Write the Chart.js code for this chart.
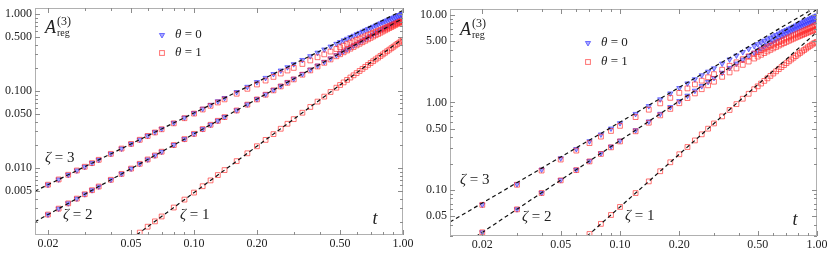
<!DOCTYPE html>
<html>
<head>
<meta charset="utf-8">
<script src="https://cdn.jsdelivr.net/npm/chart.js@4.4.1/dist/chart.umd.min.js"></script>
<style>
  body { margin: 0; background: #fff; }
  #wrap { position: relative; width: 831px; height: 254px; }
  canvas { position: absolute; top: 0; }
</style>
</head>
<body>
<div id="wrap">
  <canvas id="left" width="415" height="254" style="left:0"></canvas>
  <canvas id="right" width="416" height="254" style="left:415px"></canvas>
</div>
<script>
// ---- left panel data ----
const tLeft = [0.02, 0.0225, 0.025, 0.0275, 0.03, 0.0325, 0.035, 0.04, 0.045, 0.05, 0.055, 0.06, 0.065, 0.07,
  0.08, 0.09, 0.10, 0.11, 0.12, 0.13, 0.14, 0.16, 0.18, 0.20, 0.22, 0.24, 0.26, 0.28, 0.30,
  0.33, 0.36, 0.39, 0.42, 0.45, 0.48,
  0.50, 0.52, 0.54, 0.56, 0.58, 0.60, 0.62, 0.64, 0.66, 0.68, 0.70, 0.72, 0.74, 0.76, 0.78, 0.80,
  0.82, 0.84, 0.86, 0.88, 0.90, 0.92, 0.94, 0.96, 0.98, 1.00];
const leftBlue3 = [0.00608, 0.00711, 0.00818, 0.0093, 0.0104, 0.0116, 0.0128, 0.0153, 0.0179, 0.0206, 0.0234, 0.0263, 0.0293, 0.0323,
  0.0386, 0.0452, 0.0519, 0.059, 0.0662, 0.0737, 0.0813, 0.0971, 0.1136, 0.1307, 0.1484, 0.1664, 0.185, 0.204, 0.2235,
  0.2535, 0.284, 0.3155, 0.347, 0.379, 0.411,
  0.4333, 0.456, 0.4783, 0.501, 0.5233, 0.546, 0.5691, 0.592, 0.6152, 0.639, 0.6627, 0.686, 0.7097, 0.734, 0.7578, 0.782,
  0.8058, 0.83, 0.8538, 0.878, 0.9022, 0.926, 0.9494, 0.973, 0.9964, 1.02];
const leftRed3 = [0.00608, 0.00711, 0.00818, 0.0093, 0.0104, 0.0116, 0.0128, 0.0153, 0.0179, 0.0206, 0.0233, 0.0261, 0.029, 0.0319,
  0.0381, 0.0444, 0.051, 0.0576, 0.0643, 0.0711, 0.078, 0.0924, 0.107, 0.1218, 0.137, 0.1528, 0.169, 0.185, 0.2,
  0.225, 0.25, 0.275, 0.3, 0.326, 0.352,
  0.3704, 0.388, 0.4069, 0.425, 0.4428, 0.461, 0.4791, 0.497, 0.5154, 0.534, 0.552, 0.57, 0.5883, 0.607, 0.6247, 0.643,
  0.6614, 0.68, 0.6985, 0.717, 0.7353, 0.754, 0.772, 0.79, 0.8095, 0.83];
const leftBlue2 = [0.00249, 0.00297, 0.00348, 0.00401, 0.00457, 0.00516, 0.00576, 0.00704, 0.0084, 0.00984, 0.01135, 0.01293, 0.01458, 0.0163,
  0.01991, 0.02376, 0.02783, 0.0321, 0.03658, 0.04124, 0.0461, 0.0563, 0.0672, 0.0787, 0.0908, 0.1035, 0.1167, 0.1304, 0.1446,
  0.1668, 0.1901, 0.2144, 0.2395, 0.2657, 0.2926,
  0.3112, 0.33, 0.3495, 0.37, 0.3902, 0.411, 0.4324, 0.454, 0.4762, 0.498, 0.5206, 0.543, 0.5664, 0.59, 0.6145, 0.639,
  0.6639, 0.689, 0.7147, 0.74, 0.7658, 0.792, 0.8182, 0.845, 0.875, 0.906];
const leftRed2 = [0.00249, 0.00297, 0.00348, 0.00401, 0.00457, 0.00516, 0.00576, 0.00704, 0.0084, 0.00984, 0.01135, 0.01293, 0.01458, 0.0163,
  0.01991, 0.02376, 0.02783, 0.0321, 0.0365, 0.0411, 0.0459, 0.056, 0.0667, 0.0779, 0.0897, 0.1021, 0.1149, 0.1281, 0.1417,
  0.1631, 0.1855, 0.2088, 0.2328, 0.2577, 0.2832,
  0.3009, 0.3188, 0.3368, 0.3553, 0.3737, 0.3926, 0.4118, 0.431, 0.4509, 0.4706, 0.4909, 0.511, 0.5316, 0.552, 0.573, 0.594,
  0.6149, 0.636, 0.6577, 0.679, 0.7011, 0.723, 0.7452, 0.767, 0.7897, 0.812];
const leftRed1 = [null, null, null, null, null, null, null, null, null, 0.0012, 0.00145, 0.00173, 0.00203, 0.00235,
  0.00307, 0.00389, 0.0048, 0.00581, 0.00691, 0.00811, 0.00941, 0.0123, 0.01555, 0.0192, 0.0232, 0.0276, 0.0324, 0.0376, 0.0432,
  0.0523, 0.0622, 0.073, 0.0847, 0.0972, 0.1106,
  0.12, 0.1296, 0.1397, 0.1499, 0.1603, 0.1711, 0.1825, 0.1942, 0.2063, 0.2187, 0.2314, 0.2446, 0.258, 0.2717, 0.2855, 0.2995,
  0.3144, 0.3294, 0.3447, 0.3603, 0.3764, 0.3928, 0.4093, 0.4262, 0.4432, 0.461];
// dashed asymptotes (end points)
const leftGuideT = [0.0173, 1.0];
const leftGuide3 = [0.005, 1.12];
const leftGuide2 = [0.002, 0.88];
const leftGuide1T = [0.05, 1.0];
const leftGuide1 = [0.0012, 0.48];

// ---- right panel data ----
const tRight = [0.02, 0.03, 0.04, 0.05, 0.06, 0.07, 0.08, 0.09, 0.10, 0.12, 0.14, 0.16, 0.18, 0.20, 0.22, 0.24, 0.26, 0.28, 0.30,
  0.33, 0.36, 0.39, 0.42, 0.45, 0.48,
  0.50, 0.52, 0.54, 0.56, 0.58, 0.60, 0.62, 0.64, 0.66, 0.68, 0.70, 0.72, 0.74, 0.76, 0.78, 0.80,
  0.82, 0.84, 0.86, 0.88, 0.90, 0.92, 0.94, 0.96, 0.98, 1.00];
const rightBlue3 = [0.0679, 0.1165, 0.171, 0.2303, 0.2936, 0.3606, 0.431, 0.5041, 0.5802, 0.74, 0.9087, 1.086, 1.27, 1.462, 1.652, 1.845, 2.047, 2.253, 2.459,
  2.78, 3.105, 3.438, 3.766, 4.095, 4.413,
  4.638, 4.862, 5.072, 5.28, 5.487, 5.694, 5.908, 6.121, 6.331, 6.54, 6.747, 6.95, 7.16, 7.37, 7.582, 7.8,
  8.01, 8.22, 8.435, 8.64, 8.853, 9.06, 9.266, 9.47, 9.673, 9.88];
const rightRed3 = [0.0676, 0.1148, 0.1667, 0.2227, 0.2819, 0.3433, 0.4073, 0.4728, 0.5407, 0.6808, 0.8269, 0.9774, 1.13, 1.287, 1.448, 1.61, 1.775, 1.941, 2.108,
  2.366, 2.625, 2.878, 3.125, 3.37, 3.615,
  3.782, 3.947, 4.11, 4.271, 4.432, 4.593, 4.752, 4.908, 5.067, 5.224, 5.38, 5.531, 5.688, 5.844, 5.994, 6.145,
  6.303, 6.457, 6.615, 6.767, 6.924, 7.077, 7.246, 7.412, 7.58, 7.75];
const rightBlue2 = [0.0328, 0.0602, 0.0928, 0.1297, 0.1704, 0.2148, 0.2624, 0.3132, 0.3668, 0.4821, 0.6076, 0.742, 0.8857, 1.037, 1.197, 1.364, 1.538, 1.719, 1.906,
  2.187, 2.481, 2.784, 3.088, 3.397, 3.709,
  3.922, 4.132, 4.349, 4.569, 4.785, 5.003, 5.218, 5.433, 5.645, 5.852, 6.063, 6.268, 6.471, 6.67, 6.864, 7.052,
  7.235, 7.412, 7.586, 7.756, 7.924, 8.09, 8.221, 8.346, 8.467, 8.584];
const rightRed2 = [0.0328, 0.0601, 0.0924, 0.1288, 0.1687, 0.212, 0.2582, 0.3072, 0.3587, 0.4686, 0.5869, 0.7123, 0.8441, 0.981, 1.123, 1.269, 1.418, 1.571, 1.727,
  1.963, 2.205, 2.447, 2.69, 2.935, 3.177,
  3.343, 3.505, 3.668, 3.83, 3.991, 4.151, 4.309, 4.465, 4.621, 4.772, 4.925, 5.071, 5.22, 5.363, 5.506, 5.642,
  5.779, 5.912, 6.046, 6.176, 6.305, 6.431, 6.555, 6.677, 6.796, 6.914];
const rightRed1 = [null, null, null, null, null, 0.0314, 0.041, 0.0518, 0.064, 0.0922, 0.1254, 0.1638, 0.2074, 0.256, 0.3098, 0.3686, 0.4326, 0.5018, 0.576,
  0.6935, 0.8211, 0.9578, 1.103, 1.257, 1.419,
  1.53, 1.646, 1.764, 1.887, 2.012, 2.14, 2.271, 2.403, 2.538, 2.675, 2.815, 2.956, 3.098, 3.242, 3.388, 3.535,
  3.681, 3.83, 3.978, 4.128, 4.277, 4.426, 4.572, 4.718, 4.825, 4.928];
const rightGuide3T = [0.0137, 1.0];
const rightGuide3 = [0.043, 12.5];
const rightGuide2T = [0.0185, 1.0];
const rightGuide2 = [0.0292, 11.6];
const rightGuide1T = [0.068, 1.0];
const rightGuide1 = [0.0296, 6.4];

// ---- ticks ----
const xMajor = [0.02, 0.05, 0.1, 0.2, 0.5, 1];
const xMajorLabels = ["0.02", "0.05", "0.10", "0.20", "0.50", "1.00"];
const xMinor = [0.03, 0.04, 0.06, 0.07, 0.08, 0.09, 0.3, 0.4, 0.6, 0.7, 0.8, 0.9];
const leftYMajor = [0.005, 0.01, 0.05, 0.1, 0.5, 1];
const leftYLabels = ["0.005", "0.010", "0.050", "0.100", "0.500", "1.000"];
const leftYMinor = [0.002, 0.003, 0.004, 0.006, 0.007, 0.008, 0.009, 0.02, 0.03, 0.04, 0.06, 0.07, 0.08, 0.09, 0.2, 0.3, 0.4, 0.6, 0.7, 0.8, 0.9];
const rightYMajor = [0.05, 0.1, 0.5, 1, 5, 10];
const rightYLabels = ["0.05", "0.10", "0.50", "1.00", "5.00", "10.00"];
const rightYMinor = [0.03, 0.04, 0.06, 0.07, 0.08, 0.09, 0.2, 0.3, 0.4, 0.6, 0.7, 0.8, 0.9, 2, 3, 4, 6, 7, 8, 9];

const SERIF = '"Liberation Serif", "DejaVu Serif", serif';
const BLUE_FILL = "rgba(85,85,255,0.5)";
const BLUE_LINE = "rgba(50,50,255,0.8)";
const RED_LINE = "rgba(255,40,40,0.65)";

const pts = (ts, ys) => ts.map((t, i) => ({ x: t, y: ys[i] })).filter((p) => p.y != null);

const blueSet = (ts, ys) => ({
  data: pts(ts, ys), showLine: false, order: 2,
  pointStyle: "triangle", pointRotation: 180, pointRadius: 3,
  pointBackgroundColor: BLUE_FILL, pointBorderColor: BLUE_LINE, pointBorderWidth: 0.8,
});
const redSet = (ts, ys) => ({
  data: pts(ts, ys), showLine: false, order: 1,
  pointStyle: "rect", pointRadius: 3.4,
  pointBackgroundColor: "rgba(255,255,255,0)", pointBorderColor: RED_LINE, pointBorderWidth: 1,
});
const guideSet = (ts, ys) => ({
  data: pts(ts, ys), showLine: true, order: 0, pointRadius: 0,
  borderColor: "#111", borderWidth: 1.2, borderDash: [4, 3],
});

// draws a row of text pieces, [text, italic?]
function drawPieces(ctx, pieces, x, y, size) {
  let cx = x;
  pieces.forEach(([txt, it]) => {
    ctx.font = (it ? "italic " : "") + size + "px " + SERIF;
    ctx.fillText(txt, cx, y);
    cx += ctx.measureText(txt).width;
  });
}

function panelPlugin(cfg) {
  return {
    id: "panelDecor",
    afterDraw(chart) {
      const { ctx, chartArea: a, scales: { x, y } } = chart;
      ctx.save();
      // frame
      ctx.strokeStyle = "#b0b0b0";
      ctx.lineWidth = 1;
      ctx.strokeRect(a.left + 0.5, a.top + 0.5, a.right - a.left - 1, a.bottom - a.top - 1);
      // ticks, pointing inwards on all four sides
      ctx.strokeStyle = "#8c8c8c";
      ctx.beginPath();
      const xt = (v, len) => {
        const p = Math.round(x.getPixelForValue(v)) + 0.5;
        ctx.moveTo(p, a.bottom); ctx.lineTo(p, a.bottom - len);
        ctx.moveTo(p, a.top); ctx.lineTo(p, a.top + len);
      };
      const yt = (v, len) => {
        const p = Math.round(y.getPixelForValue(v)) + 0.5;
        ctx.moveTo(a.left, p); ctx.lineTo(a.left + len, p);
        ctx.moveTo(a.right, p); ctx.lineTo(a.right - len, p);
      };
      xMajor.forEach((v) => xt(v, 5));
      xMinor.forEach((v) => xt(v, 3));
      cfg.yMajor.forEach((v) => yt(v, 5));
      cfg.yMinor.forEach((v) => yt(v, 3));
      ctx.stroke();
      // tick labels
      ctx.fillStyle = "#222";
      ctx.font = "12px " + SERIF;
      ctx.textAlign = "center";
      ctx.textBaseline = "top";
      xMajor.forEach((v, i) => ctx.fillText(xMajorLabels[i], x.getPixelForValue(v), a.bottom + 3));
      ctx.textAlign = "right";
      ctx.textBaseline = "middle";
      cfg.yMajor.forEach((v, i) => ctx.fillText(cfg.yLabels[i], a.left - 3, y.getPixelForValue(v)));

      // A_reg^(3) label
      ctx.textAlign = "left";
      ctx.textBaseline = "alphabetic";
      ctx.font = "italic 18px " + SERIF;
      ctx.fillText("A", cfg.aLabel.x, cfg.aLabel.y);
      const aw = ctx.measureText("A").width;
      ctx.font = "12px " + SERIF;
      ctx.fillText("(3)", cfg.aLabel.x + aw + 1, cfg.aLabel.y - 8);
      ctx.font = "10px " + SERIF;
      ctx.fillText("reg", cfg.aLabel.x + aw + 1, cfg.aLabel.y + 3);

      // legend
      ctx.textBaseline = "middle";
      const lg = cfg.legend;
      ctx.fillStyle = BLUE_FILL;
      ctx.strokeStyle = BLUE_LINE;
      ctx.lineWidth = 0.8;
      ctx.beginPath();
      ctx.moveTo(lg.x - 2.6, lg.y0 - 1.5);
      ctx.lineTo(lg.x + 2.6, lg.y0 - 1.5);
      ctx.lineTo(lg.x, lg.y0 + 3);
      ctx.closePath();
      ctx.fill();
      ctx.stroke();
      ctx.strokeStyle = RED_LINE;
      ctx.lineWidth = 1;
      ctx.strokeRect(lg.x - 2.4, lg.y1 - 2.4, 4.8, 4.8);
      ctx.fillStyle = "#222";
      drawPieces(ctx, [["θ", true], [" = 0", false]], lg.x + 13, lg.y0, 13);
      drawPieces(ctx, [["θ", true], [" = 1", false]], lg.x + 13, lg.y1, 13);

      // zeta labels
      cfg.zeta.forEach((z) => drawPieces(ctx, [["ζ", true], [" = " + z.n, false]], z.x, z.y, 15));
      // axis variable
      ctx.font = "italic 18px " + SERIF;
      ctx.textAlign = "center";
      ctx.fillText("t", cfg.tLabel.x, cfg.tLabel.y);
      ctx.restore();
    },
  };
}

function makeChart(id, datasets, xMin, yMin, yMax, pad, cfg) {
  return new Chart(document.getElementById(id), {
    type: "scatter",
    data: { datasets },
    options: {
      responsive: false,
      animation: false,
      devicePixelRatio: 1,
      events: [],
      layout: { padding: pad },
      scales: {
        x: { type: "logarithmic", min: xMin, max: 1.0, display: false },
        y: { type: "logarithmic", min: yMin, max: yMax, display: false },
      },
      plugins: { legend: { display: false }, tooltip: { enabled: false } },
    },
    plugins: [panelPlugin(cfg)],
  });
}

makeChart("left", [
  guideSet(leftGuideT, leftGuide3),
  guideSet(leftGuideT, leftGuide2),
  guideSet(leftGuide1T, leftGuide1),
  redSet(tLeft, leftRed3),
  redSet(tLeft, leftRed2),
  redSet(tLeft, leftRed1),
  blueSet(tLeft, leftBlue3),
  blueSet(tLeft, leftBlue2),
], 0.01734, 0.00135, 1.2, { left: 35, right: 12, top: 8, bottom: 19 }, {
  yMajor: leftYMajor, yLabels: leftYLabels, yMinor: leftYMinor,
  aLabel: { x: 45, y: 33 },
  legend: { x: 162, y0: 35, y1: 53 },
  zeta: [{ n: 3, x: 45, y: 158 }, { n: 2, x: 63, y: 215 }, { n: 1, x: 180, y: 215 }],
  tLabel: { x: 375, y: 219 },
});

makeChart("right", [
  guideSet(rightGuide3T, rightGuide3),
  guideSet(rightGuide2T, rightGuide2),
  guideSet(rightGuide1T, rightGuide1),
  redSet(tRight, rightRed3),
  redSet(tRight, rightRed2),
  redSet(tRight, rightRed1),
  blueSet(tRight, rightBlue3),
  blueSet(tRight, rightBlue2),
], 0.01371, 0.0298, 11.7, { left: 35, right: 14, top: 9, bottom: 18 }, {
  yMajor: rightYMajor, yLabels: rightYLabels, yMinor: rightYMinor,
  aLabel: { x: 45, y: 35 },
  legend: { x: 173, y0: 43, y1: 62 },
  zeta: [{ n: 3, x: 45, y: 180 }, { n: 2, x: 107, y: 217 }, { n: 1, x: 210, y: 216 }],
  tLabel: { x: 380, y: 220 },
});
</script>
</body>
</html>
